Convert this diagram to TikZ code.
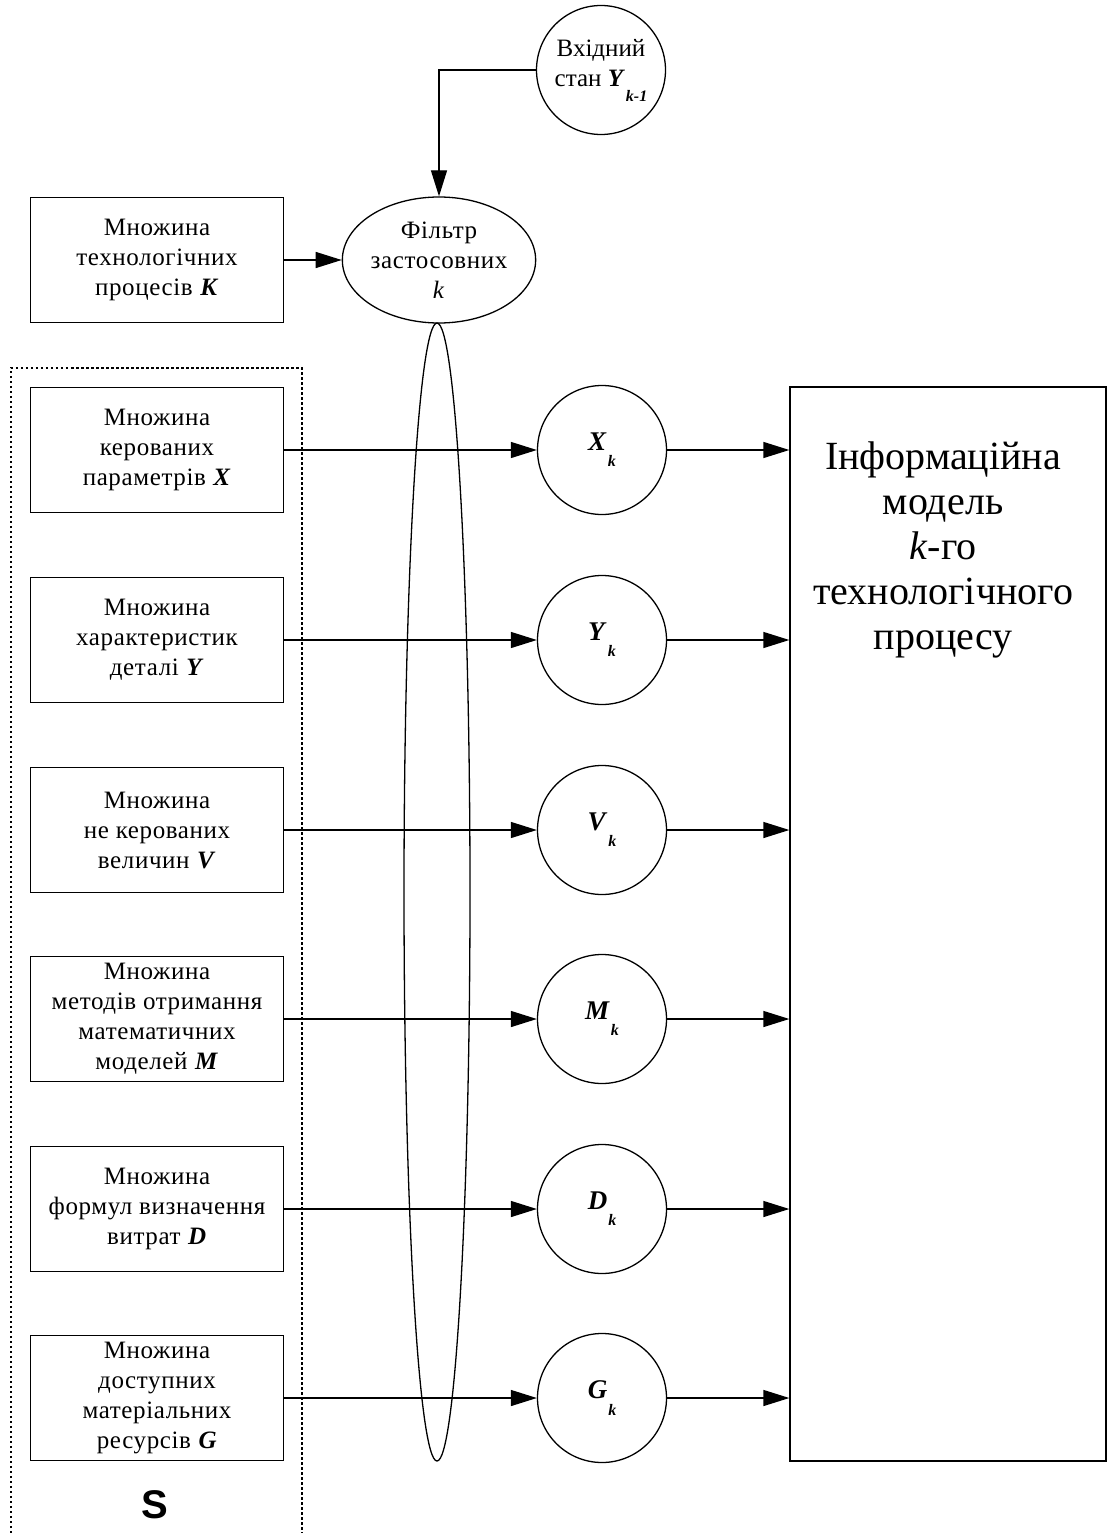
\documentclass[tikz,border=0pt]{standalone}
\usepackage{fontspec}
\setmainfont{Liberation Serif}
\setsansfont{Liberation Sans}
\newfontfamily\boxfont[LetterSpace=2.5]{Liberation Serif}
\usetikzlibrary{arrows.meta,shapes.geometric}

% subscript set low and small, as in the source notation
\newcommand\lowidx[1]{\kern1pt\raisebox{-0.6em}{\fontsize{16}{16}\selectfont\bfseries\itshape #1}}
\newcommand\setsym[1]{\textbf{\textit{#1}}}

\begin{document}
\begin{tikzpicture}[x=1pt,y=-1pt,
  every node/.style={align=center, inner sep=0pt, font=\boxfont\fontsize{25}{30}\selectfont},
  ln/.style={line width=1.3pt},
  arr/.style={ln, -{Triangle[length=26pt,width=16pt]}},
  setbox/.style={draw, ln, minimum width=253pt, minimum height=125pt},
  elem/.style={draw, ln, circle, minimum size=129pt, font=\fontsize{27}{30}\selectfont},
  frame/.style={line width=1.4pt, dash pattern=on 2.5pt off 2.5pt}
]
\useasboundingbox (0,0) rectangle (1106,1533);

% input state and filter
\node[draw, ln, circle, minimum size=129pt, font=\fontsize{25}{30}\selectfont] (inp) at (601,70)
  {Вхідний\\стан \setsym{Y}\lowidx{k-1}};
\node[draw, ln, ellipse, minimum width=192pt, minimum height=126pt] (filt) at (439,260)
  {Фільтр\\застосовних\\\textit{k}};
\node[setbox] (kset) at (157,260) {Множина\\технологічних\\процесів \setsym{K}};

\draw[arr] (inp.west) -| (filt.north);
\draw[arr] (kset.east) -- (filt.west);

% group S
\draw[frame] (11,1533) |- (302,368) -- (302,1533);
\node[font=\sffamily\bfseries\fontsize{40}{40}\selectfont] (slab) at (155,1505) {S};

% selection ellipse below the filter
\node[draw, ln, ellipse, minimum width=66pt, minimum height=1138pt] (sel) at (437,892) {};

% information model
\node[draw, ln, minimum width=316pt, minimum height=1074pt] (model) at (948,924) {};
\node[font=\fontsize{40}{45}\selectfont, anchor=north] (mtext) at (943,442)
  {Інформаційна\\модель\\\textit{k}-го\\технологічного\\процесу};

% sets and their filtered subsets
\node[setbox] (xs) at (157,450)  {Множина\\керованих\\параметрів \setsym{X}};
\node[setbox] (ys) at (157,640)  {Множина\\характеристик\\деталі \setsym{Y}};
\node[setbox] (vs) at (157,830)  {Множина\\не керованих\\величин \setsym{V}};
\node[setbox] (ms) at (157,1019) {Множина\\методів отримання\\математичних\\моделей \setsym{M}};
\node[setbox] (ds) at (157,1209) {Множина\\формул визначення\\витрат \setsym{D}};
\node[setbox] (gs) at (157,1398) {Множина\\доступних\\матеріальних\\ресурсів \setsym{G}};

\node[elem] (xk) at (602,450)  {\setsym{X}\lowidx{k}};
\node[elem] (yk) at (602,640)  {\setsym{Y}\lowidx{k}};
\node[elem] (vk) at (602,830)  {\setsym{V}\lowidx{k}};
\node[elem] (mk) at (602,1019) {\setsym{M}\lowidx{k}};
\node[elem] (dk) at (602,1209) {\setsym{D}\lowidx{k}};
\node[elem] (gk) at (602,1398) {\setsym{G}\lowidx{k}};

\foreach \s/\e in {xs/xk, ys/yk, vs/vk, ms/mk, ds/dk, gs/gk} {
  \draw[arr] (\s.east) -- (\e.west);
  \draw[arr] (\e.east) -- (\e.east -| model.west);
}
\end{tikzpicture}
\end{document}
